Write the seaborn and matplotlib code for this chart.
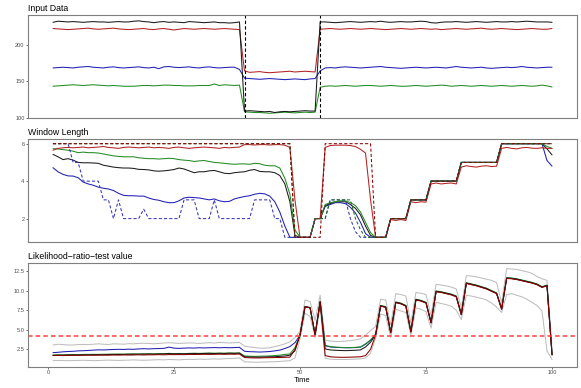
import numpy as np
import matplotlib
matplotlib.use('Agg')
import matplotlib.pyplot as plt
import seaborn as sns

# ---- data ----
time = np.arange(1, 101)

# Input data (4 series)
in_black = [230.5, 232, 231.5, 231, 231.5, 231, 230.5, 231, 231.5, 231,
            231, 230.5, 231, 231.5, 231, 231, 232, 232.5, 231.5, 231,
            230, 231, 231.5, 230.5, 231, 230.5, 230, 231.5, 231, 230.5,
            230, 230.5, 231, 230, 230, 229.5, 230, 231,
            109, 109.5, 109, 108.5, 108, 108.5, 107, 108, 108.5, 108, 108.5, 109, 109.5, 109, 109,
            231, 231, 230.5, 230, 230.5, 231, 231.5, 231, 230.5, 231,
            231.5, 231, 232, 231, 230.5, 231, 231.5, 231, 231, 231.5,
            232, 231.5, 230, 229.5, 230.5, 231, 231, 231.5, 231, 230.5,
            231, 231.5, 231, 230.5, 231, 231.5, 231, 231, 231.5, 231,
            231.5, 232, 231.5, 231, 231, 231, 230.5]
in_red = [222, 221.5, 221, 220.5, 221, 221.5, 222, 222.5, 221.5, 221,
          221.5, 222, 222.5, 221.5, 221, 220.5, 221, 221.5, 222, 221,
          220.5, 221.5, 222, 221, 220, 221, 222, 221.5, 221, 221.5,
          222, 221.5, 221, 221.5, 222, 221.5, 221, 220.5,
          164, 162, 162.5, 163, 162, 161.5, 162, 162.5, 163, 163.5, 162.5, 163, 163.5, 163, 162.5,
          221, 221.5, 222, 221.5, 221, 221.5, 222, 221.5, 221, 221.5,
          222, 221.5, 221, 220.5, 221, 221.5, 222, 221.5, 221, 221.5,
          222, 221.5, 221, 221.5, 220.5, 221, 221.5, 222, 221.5, 221,
          221.5, 222, 222.5, 221.5, 221, 221.5, 222, 221.5, 221, 220.5,
          221, 221.5, 222, 221.5, 221, 221, 222]
in_blue = [168, 168.5, 169, 168.5, 168, 169, 169.5, 170, 169, 168.5,
           168, 169, 169.5, 168.5, 168, 168.5, 169, 169.5, 168.5, 168,
           169, 167, 169.5, 170, 169, 168.5, 169, 169.5, 168.5, 168,
           169, 169.5, 168.5, 168, 168.5, 169, 169, 166,
           154, 153.5, 153, 152.5, 153, 153.5, 153, 152.5, 152, 152.5, 153, 152.5, 152, 153, 153.5,
           164, 168, 168.5, 168, 169, 169.5, 169, 168.5, 168, 168.5,
           169, 169.5, 170, 169, 168.5, 168, 167.5, 168, 168.5, 169,
           168.5, 168, 168.5, 169, 168.5, 168, 169, 170, 169, 168.5,
           168, 168.5, 169, 168, 167.5, 168, 168.5, 169, 168.5, 169,
           170, 169, 168.5, 168, 168.5, 169, 169]
in_green = [143, 143.5, 144, 144.5, 145, 144.5, 144, 144.5, 145, 144.5,
            144, 143.5, 144, 143.5, 143, 143, 143, 143.5, 144, 144,
            143.5, 144, 144.5, 144.5, 144, 144, 143.5, 143.5, 143.5, 144,
            144, 144, 146, 144, 145, 144.5, 144, 144.5,
            108, 107.5, 107, 107, 106.5, 106, 106.5, 107, 107.5, 107, 106.5, 107, 107.5, 107, 107.5,
            141.5, 143, 143.5, 143, 143.5, 144, 143.5, 143, 143.5, 144,
            144, 143.5, 143, 143.5, 144, 143.5, 143, 143, 143.5, 144,
            143.5, 143, 143.5, 144, 144.5, 144, 143, 143.5, 144, 143.5,
            143, 143.5, 144, 143.5, 143, 143.5, 144, 143.5, 143, 143.5,
            144, 143.5, 143, 143.5, 144.5, 143.5, 142]
change_points = [39, 54]

# Window length
win_red = [5.65, 5.75, 5.78, 5.8, 5.78, 5.8, 5.82, 5.78, 5.8, 5.82,
           5.85, 5.8, 5.78, 5.75, 5.8, 5.82, 5.8, 5.78, 5.8, 5.82,
           5.78, 5.8, 5.78, 5.75, 5.8, 5.82, 5.78, 5.75, 5.78, 5.8,
           5.82, 5.8, 5.78, 5.75, 5.8, 5.78, 5.8, 5.82, 5.95, 5.95,
           5.93, 5.95, 5.95, 5.93, 5.95, 5.95, 5.92, 5.8, 3.0, 1,
           1, 1, 2, 2, 5.8, 5.9, 5.92, 5.92, 5.92, 5.9,
           5.85, 5.7, 5.5, 3.0, 1, 1, 1, 1.95, 1.9, 1.95,
           1.9, 2.9, 2.85, 2.9, 2.88, 3.85, 3.9, 3.85, 3.88, 3.9,
           3.85, 4.75, 4.82, 4.78, 4.75, 4.8, 4.82, 4.78, 4.8, 5.75,
           5.8, 5.75, 5.72, 5.78, 5.8, 5.76, 5.75, 5.78, 5.75, 5.75]
win_red_true = [6] * 48 + [1] * 6 + [6] * 10 + [1] * 3 + [2] * 4 + [3] * 4 + [4] * 6 + [5] * 8 + [6] * 11
win_black = [5.43, 5.3, 5.15, 5.2, 5.12, 5.0, 4.98, 4.98, 4.97, 4.95,
             4.85, 4.8, 4.75, 4.72, 4.7, 4.7, 4.68, 4.63, 4.62, 4.6,
             4.55, 4.53, 4.55, 4.58, 4.62, 4.7, 4.65, 4.55, 4.45, 4.5,
             4.5, 4.55, 4.57, 4.5, 4.42, 4.4, 4.45, 4.48, 4.5, 4.58,
             4.62, 4.52, 4.5, 4.5, 4.45, 4.3, 3.85, 2.9, 1.1, 1,
             1, 1, 2, 2, 2.7, 2.8, 2.9, 2.9, 2.9, 2.75,
             2.55, 2.2, 1.6, 1.1, 1, 1, 1, 2, 2, 2,
             2, 3, 3, 3, 3, 4, 4, 4, 4, 4,
             4, 5, 5, 5, 5, 5, 5, 5, 5, 6,
             6, 6, 6, 6, 6, 6, 6, 6, 5.72, 5.4]
win_green = [5.73, 5.72, 5.68, 5.65, 5.6, 5.52, 5.55, 5.52, 5.52, 5.5,
             5.45, 5.4, 5.35, 5.32, 5.3, 5.3, 5.3, 5.25, 5.22, 5.2,
             5.2, 5.18, 5.2, 5.22, 5.2, 5.15, 5.12, 5.1, 5.05, 5.08,
             5.1, 5.05, 5.0, 4.98, 4.95, 4.92, 4.9, 4.92, 4.92, 4.9,
             4.95, 4.93, 4.85, 4.82, 4.82, 4.7, 4.15, 3.3, 1.4, 1,
             1, 1, 2, 2, 2.75, 2.85, 2.9, 2.95, 2.95, 2.85,
             2.7, 2.35, 1.8, 1.25, 1, 1, 1, 2, 2, 2,
             2, 3, 3, 3, 3, 4, 4, 4, 4, 4,
             4, 5, 5, 5, 5, 5, 5, 5, 5, 6,
             6, 6, 6, 6, 6, 6, 6, 6, 5.85, 5.75]
win_green_true = [6] * 48 + [1] * 4 + [2] * 3 + [3] * 5 + [2, 1.4] + [1] * 5 + [2] * 4 + [3] * 4 + [4] * 6 + [5] * 8 + [6] * 11
win_blue = [4.72, 4.5, 4.36, 4.28, 4.27, 4.18, 3.95, 3.85, 3.78, 3.68,
            3.62, 3.58, 3.5, 3.35, 3.24, 3.22, 3.22, 3.2, 3.2, 3.1,
            3.02, 2.98, 2.9, 2.85, 2.85, 2.95, 3.1, 3.14, 3.12, 3.1,
            3.05, 3.0, 3.05, 2.95, 2.9, 2.92, 3.05, 3.12, 3.18, 3.22,
            3.3, 3.35, 3.32, 3.2, 2.9, 2.35, 1.6, 1, 1, 1,
            1, 1, 2, 2, 2.65, 2.75, 2.85, 2.85, 2.8, 2.6,
            2.3, 1.8, 1.2, 1, 1, 1, 1, 2, 2, 2,
            2, 3, 3, 3, 3, 4, 4, 4, 4, 4,
            4, 5, 5, 5, 5, 5, 5, 5, 5, 6,
            6, 6, 6, 6, 6, 6, 6, 6, 5.1, 4.8]
win_blue_true = [6, 6, 6, 6, 5, 5, 4, 4, 4, 4,
                 3, 3, 2, 3, 2, 2, 2, 2, 2.5, 2,
                 2, 2, 2, 2, 2, 2, 3, 3, 3, 2,
                 2, 2, 3, 2, 2, 2, 2, 2, 2, 2,
                 3, 3, 3, 3, 2, 2, 1, 1, 1, 1,
                 1, 1, 2, 2, 2, 3, 3, 3, 3, 2,
                 1.3, 1, 1, 1, 1, 1, 1, 2, 2, 2,
                 2, 3, 3, 3, 3, 4, 4, 4, 4, 4,
                 4, 5, 5, 5, 5, 5, 5, 5, 5, 6,
                 6, 6, 6, 6, 6, 6, 6, 6, 6, 6]

# Likelihood-ratio-test value
lr_upper = [3.05, 3.15, 3.1, 3.05, 3.05, 3.1, 3.12, 3.1, 3.15, 3.2,
            3.15, 3.12, 3.2, 3.18, 3.15, 3.22, 3.2, 3.25, 3.28, 3.25,
            3.2, 3.25, 3.3, 3.35, 3.3, 3.25, 3.28, 3.32, 3.3, 3.25,
            3.3, 3.35, 3.3, 3.38, 3.35, 3.3, 3.35, 3.38, 2.9, 2.8,
            2.72, 2.65, 2.65, 2.7, 2.85, 3.0, 3.2, 3.45, 4.0, 4.8,
            8.8, 8.6, 6.2, 9.4, 3.7, 3.55, 3.5, 3.5, 3.55, 3.6,
            3.7, 3.85, 4.3, 4.9, 5.4, 8.9, 8.8, 5.6, 9.6, 9.5,
            9.3, 5.8, 9.75, 9.65, 9.5, 6.8, 10.8, 10.7, 10.6, 10.45,
            10.2, 7.8, 11.9, 11.85, 11.75, 11.6, 11.45, 11.3, 11.0, 8.4,
            12.8, 12.75, 12.7, 12.55, 12.4, 12.2, 11.8, 11.5, 11.3, 2.6]
lr_lower = [1.05, 1.08, 1.07, 1.05, 1.06, 1.08, 1.1, 1.08, 1.05, 1.07,
            1.1, 1.12, 1.1, 1.08, 1.1, 1.12, 1.15, 1.12, 1.1, 1.12,
            1.15, 1.18, 1.15, 1.2, 1.18, 1.15, 1.2, 1.22, 1.2, 1.25,
            1.22, 1.25, 1.28, 1.25, 1.3, 1.32, 1.35, 1.4, 0.9, 0.88,
            0.85, 0.85, 0.88, 0.9, 0.92, 0.95, 1.0, 1.05, 1.4, 3.8,
            7.1, 6.7, 4.0, 7.8, 1.35, 1.25, 1.2, 1.2, 1.2, 1.22,
            1.25, 1.28, 1.4, 2.0, 3.9, 7.0, 6.8, 4.0, 7.6, 7.4,
            7.2, 4.3, 7.8, 7.6, 7.3, 5.2, 8.5, 8.35, 8.2, 8.0,
            7.5, 6.3, 9.4, 9.3, 9.15, 9.0, 8.8, 8.4, 7.9, 7.2,
            9.5, 9.6, 9.4, 9.2, 8.9, 8.5, 8.1, 7.4, 2.3, 1.2]
lr_blue = [2.07, 2.12, 2.18, 2.22, 2.25, 2.3, 2.32, 2.35, 2.4, 2.43,
           2.42, 2.45, 2.48, 2.5, 2.48, 2.52, 2.5, 2.55, 2.58, 2.55,
           2.58, 2.6, 2.62, 2.78, 2.65, 2.62, 2.65, 2.68, 2.66, 2.7,
           2.68, 2.7, 2.72, 2.7, 2.72, 2.7, 2.72, 2.75, 2.25, 2.2,
           2.18, 2.15, 2.18, 2.22, 2.3, 2.4, 2.6, 2.85, 3.35, 4.3,
           7.95, 7.82, 4.38, 8.58, 2.95, 2.8, 2.75, 2.72, 2.7, 2.7,
           2.72, 2.78, 3.15, 3.65, 4.4, 8.05, 7.9, 4.65, 8.5, 8.35,
           8.05, 4.75, 8.85, 8.7, 8.45, 5.9, 9.9, 9.8, 9.65, 9.5,
           9.25, 6.95, 10.95, 10.8, 10.65, 10.45, 10.25, 9.95, 9.65, 7.65,
           11.6, 11.55, 11.45, 11.3, 11.15, 11.0, 10.8, 10.45, 10.65, 1.8]
lr_green = [1.78, 1.8, 1.8, 1.82, 1.83, 1.82, 1.85, 1.85, 1.86, 1.85,
            1.87, 1.88, 1.88, 1.9, 1.88, 1.9, 1.92, 1.9, 1.92, 1.93,
            1.92, 1.95, 1.93, 1.98, 1.95, 1.97, 1.95, 1.98, 2.0, 1.98,
            2.0, 2.02, 2.0, 2.02, 2.0, 2.03, 2.02, 2.05, 1.65, 1.62,
            1.6, 1.62, 1.63, 1.65, 1.7, 1.75, 1.85, 1.9, 2.7, 4.3,
            7.95, 7.85, 4.4, 8.6, 3.0, 2.85, 2.78, 2.75, 2.72, 2.72,
            2.75, 2.8, 3.2, 3.7, 4.4, 8.1, 7.95, 4.7, 8.55, 8.4,
            8.1, 4.8, 8.9, 8.75, 8.5, 5.95, 9.95, 9.85, 9.7, 9.55,
            9.3, 7.0, 11.0, 10.85, 10.7, 10.5, 10.3, 10.0, 9.7, 7.7,
            11.65, 11.6, 11.5, 11.35, 11.2, 11.05, 10.85, 10.5, 10.7, 1.85]
lr_black = [1.72, 1.75, 1.75, 1.76, 1.78, 1.77, 1.78, 1.8, 1.8, 1.82,
            1.8, 1.83, 1.85, 1.84, 1.85, 1.87, 1.86, 1.88, 1.88, 1.9,
            1.88, 1.9, 1.92, 1.95, 1.92, 1.93, 1.92, 1.95, 1.96, 1.95,
            1.97, 1.98, 1.96, 1.98, 1.97, 2.0, 1.98, 2.0, 1.55, 1.52,
            1.5, 1.5, 1.52, 1.55, 1.55, 1.6, 1.65, 1.75, 2.3, 4.3,
            7.93, 7.8, 4.35, 8.56, 2.55, 2.42, 2.38, 2.35, 2.33, 2.35,
            2.38, 2.42, 2.8, 3.4, 4.35, 8.05, 7.9, 4.65, 8.5, 8.35,
            8.05, 4.75, 8.85, 8.7, 8.45, 5.9, 9.9, 9.8, 9.65, 9.5,
            9.25, 6.95, 10.95, 10.8, 10.65, 10.45, 10.25, 9.95, 9.65, 7.65,
            11.6, 11.55, 11.45, 11.3, 11.15, 11.0, 10.8, 10.45, 10.65, 1.8]
lr_red = [1.7, 1.72, 1.7, 1.72, 1.73, 1.72, 1.74, 1.75, 1.74, 1.75,
          1.76, 1.75, 1.77, 1.76, 1.78, 1.77, 1.78, 1.8, 1.78, 1.8,
          1.8, 1.82, 1.8, 1.83, 1.82, 1.83, 1.82, 1.85, 1.84, 1.85,
          1.86, 1.85, 1.86, 1.88, 1.86, 1.88, 1.87, 1.9, 1.45, 1.42,
          1.4, 1.4, 1.42, 1.43, 1.45, 1.45, 1.48, 1.5, 2.5, 4.3,
          7.93, 7.8, 4.35, 8.56, 1.7, 1.55, 1.5, 1.48, 1.48, 1.5,
          1.52, 1.55, 1.7, 2.5, 4.3, 8.0, 7.85, 4.6, 8.45, 8.3,
          8.0, 4.7, 8.8, 8.65, 8.4, 5.85, 9.84, 9.75, 9.6, 9.45,
          9.2, 6.9, 10.9, 10.75, 10.6, 10.4, 10.2, 9.9, 9.6, 7.6,
          11.55, 11.5, 11.4, 11.25, 11.1, 10.95, 10.75, 10.4, 10.6, 1.8]
lr_threshold = 4.22

# ---- style ----
sns.set_theme(style='white')
plt.rcParams['font.family'] = ['Liberation Sans', 'DejaVu Sans']

c_black = '#1a1a1a'
c_red = '#b22222'
c_dred = '#8b0000'
c_blue = '#1f1fb4'
c_green = '#228b22'
c_grey = '#bdbdbd'
dash = (0, (3, 2))
lw = 0.75

fig = plt.figure(figsize=(5.81, 3.88), dpi=100)
left, width = 28 / 581, 549 / 581
ax1 = fig.add_axes([left, 1 - 118 / 388, width, 103 / 388])
ax2 = fig.add_axes([left, 1 - 242 / 388, width, 103 / 388])
ax3 = fig.add_axes([left, 1 - 366.7 / 388, width, 103.4 / 388])

# Panel 1
for y, c in [(in_green, c_green), (in_blue, c_blue), (in_red, c_red), (in_black, c_black)]:
    sns.lineplot(x=time, y=y, ax=ax1, color=c, lw=lw)
for cp in change_points:
    ax1.axvline(cp, color='black', lw=0.8, linestyle=dash)
ax1.set_ylim(99.5, 240.5)
ax1.set_yticks([100, 150, 200])

# Panel 2
for y, c in [(win_blue, c_blue), (win_black, c_black), (win_green, c_green), (win_red, c_red)]:
    sns.lineplot(x=time, y=y, ax=ax2, color=c, lw=lw)
for y, c in [(win_blue_true, '#3535c0'), (win_green_true, '#1e6e1e'), (win_red_true, c_dred)]:
    sns.lineplot(x=time, y=y, ax=ax2, color=c, lw=lw, linestyle=dash)
ax2.set_ylim(0.75, 6.25)
ax2.set_yticks([2, 4, 6])

# Panel 3
for y, c in [(lr_upper, c_grey), (lr_lower, c_grey), (lr_blue, c_blue),
             (lr_green, c_green), (lr_black, c_black), (lr_red, c_dred)]:
    sns.lineplot(x=time, y=y, ax=ax3, color=c, lw=lw)
ax3.axhline(lr_threshold, color='#ff4040', lw=1.1, linestyle=dash)
ax3.set_ylim(0.28, 13.48)
ax3.set_yticks([2.5, 5.0, 7.5, 10.0, 12.5])
ax3.set_yticklabels(['2.5', '5.0', '7.5', '10.0', '12.5'])
ax3.set_xticks([0, 25, 50, 75, 100])
ax3.set_xlabel('Time', fontsize=5.5, labelpad=1, color='black')

titles = ['Input Data', 'Window Length', 'Likelihood\u2212ratio\u2212test value']
for ax, title in zip([ax1, ax2, ax3], titles):
    ax.set_xlim(-3.95, 104.95)
    ax.set_ylabel('')
    ax.set_title(title, loc='left', fontsize=6.3, pad=3, color='black')
    for s in ax.spines.values():
        s.set_color('#7f7f7f')
        s.set_linewidth(0.8)
    ax.tick_params(axis='y', left=True, length=1.5, width=0.5, color='#333333',
                   labelsize=4.1, labelcolor='#4d4d4d', pad=1)
    ax.grid(False)

for ax in [ax1, ax2]:
    ax.set_xticks([])
    ax.set_xlabel('')
ax3.tick_params(axis='x', bottom=True, length=1.5, width=0.5, color='#333333',
                labelsize=4.1, labelcolor='#4d4d4d', pad=1)

fig.savefig('out.png', dpi=100)
